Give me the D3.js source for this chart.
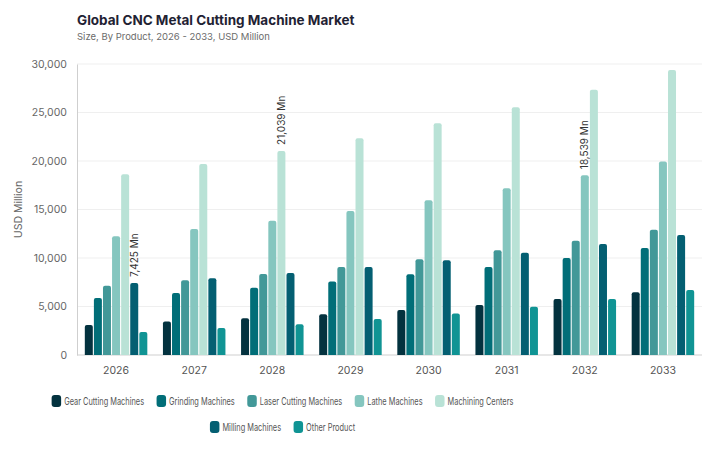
<!DOCTYPE html>
<html>
<head>
<meta charset="utf-8">
<script src="https://cdn.jsdelivr.net/npm/d3@7"></script>
<style>
  html, body { margin: 0; padding: 0; background: #fff; }
  svg { display: block; font-family: Inter, "Open Sans", sans-serif; }
</style>
</head>
<body>
<svg id="chart" width="719" height="449"></svg>
<script>
  var years = ["2026", "2027", "2028", "2029", "2030", "2031", "2032", "2033"];
  var products = ["Gear Cutting Machines", "Grinding Machines", "Laser Cutting Machines", "Lathe Machines", "Machining Centers", "Milling Machines", "Other Product"];
  var colors = ["#03323f", "#016e78", "#429898", "#85c6bf", "#b9e2d6", "#045f72", "#109494"];

  var gearCutting = [3100, 3450, 3780, 4190, 4640, 5150, 5770, 6460];
  var grinding = [5880, 6390, 6940, 7590, 8320, 9070, 10000, 11030];
  var laserCutting = [7140, 7700, 8350, 9070, 9860, 10790, 11790, 12920];
  var lathe = [12240, 12990, 13850, 14850, 15950, 17180, 18539, 19960];
  var machiningCenters = [18630, 19700, 21039, 22340, 23880, 25530, 27350, 29380];
  var milling = [7425, 7900, 8450, 9070, 9760, 10550, 11440, 12370];
  var other = [2370, 2780, 3160, 3710, 4290, 4980, 5770, 6700];
  var series = [gearCutting, grinding, laserCutting, lathe, machiningCenters, milling, other];

  // value labels: [year, product index]
  var labelled = [["2026", 5], ["2028", 4], ["2032", 3]];
  var yTicks = [0, 5000, 10000, 15000, 20000, 25000, 30000];

  var svg = d3.select("#chart");
  var plotLeft = 77, plotRight = 702, plotTop = 64, plotBottom = 355;

  svg.append("text").attr("x", 77).attr("y", 25)
    .attr("font-size", 13.5).attr("font-weight", 700).attr("fill", "#1f2233")
    .text("Global CNC Metal Cutting Machine Market");
  svg.append("text").attr("x", 77).attr("y", 40)
    .attr("font-size", 9.5).attr("fill", "#6b6b6b")
    .text("Size, By Product, 2026 - 2033, USD Million");

  var x0 = d3.scaleBand().domain(years).range([plotLeft, plotRight]).paddingInner(0.2).paddingOuter(0.1);
  var x1 = d3.scaleBand().domain(d3.range(products.length)).range([0, x0.bandwidth()]).paddingInner(0.12);
  var y = d3.scaleLinear().domain([0, 30000]).range([plotBottom, plotTop]);

  // grid
  svg.append("g").selectAll("line").data(yTicks.slice(1)).join("line")
    .attr("x1", plotLeft).attr("x2", plotRight)
    .attr("y1", function (d) { return y(d); }).attr("y2", function (d) { return y(d); })
    .attr("stroke", "#efefef");

  var yAxis = svg.append("g").attr("transform", "translate(" + plotLeft + ",0)")
    .call(d3.axisLeft(y).tickValues(yTicks).tickSize(0).tickPadding(10).tickFormat(d3.format(",")));
  yAxis.select(".domain").attr("stroke", "#cfcfcf");
  yAxis.selectAll("text").attr("font-size", 10.5).attr("fill", "#666").attr("font-family", "Inter, sans-serif");

  var xAxis = svg.append("g").attr("transform", "translate(0," + plotBottom + ")")
    .call(d3.axisBottom(x0).tickSize(0).tickPadding(12));
  xAxis.select(".domain").attr("stroke", "#cfcfcf").attr("d", "M" + plotLeft + ",0H" + plotRight);
  xAxis.selectAll("text").attr("font-size", 10.5).attr("fill", "#555").attr("font-family", "Inter, sans-serif");

  svg.append("text").attr("transform", "translate(22," + y(15000) + ") rotate(-90)")
    .attr("text-anchor", "middle").attr("font-size", 10.5).attr("fill", "#666")
    .text("USD Million");

  function topRounded(x, yTop, w, h, r) {
    r = Math.min(r, h, w / 2);
    return "M" + x + "," + (yTop + h) + "V" + (yTop + r) +
      "Q" + x + "," + yTop + " " + (x + r) + "," + yTop +
      "H" + (x + w - r) + "Q" + (x + w) + "," + yTop + " " + (x + w) + "," + (yTop + r) +
      "V" + (yTop + h) + "Z";
  }

  var groups = svg.append("g").selectAll("g").data(years).join("g")
    .attr("transform", function (d) { return "translate(" + x0(d) + ",0)"; });

  groups.selectAll("path").data(function (yr, i) {
    return series.map(function (s, k) { return { k: k, value: s[i] }; });
  }).join("path")
    .attr("fill", function (d) { return colors[d.k]; })
    .attr("d", function (d) {
      return topRounded(x1(d.k), y(d.value), x1.bandwidth(), plotBottom - y(d.value), 2);
    });

  labelled.forEach(function (l) {
    var i = years.indexOf(l[0]);
    var v = series[l[1]][i];
    var cx = x0(l[0]) + x1(l[1]) + x1.bandwidth() / 2;
    svg.append("text")
      .attr("transform", "translate(" + (cx + 3.5) + "," + (y(v) - 6) + ") rotate(-90)")
      .attr("font-size", 10).attr("fill", "#333")
      .text(d3.format(",")(v) + " Mn");
  });

  // legend, rows centered; the reference uses a narrow face, so squeeze the text horizontally
  var probe = svg.append("text").attr("font-size", 10.5).text(products[0]);
  var squeeze = 80 / probe.node().getComputedTextLength();
  probe.remove();

  var rows = [[0, 1, 2, 3, 4], [5, 6]];
  var legendCenter = 282.5;
  rows.forEach(function (row, r) {
    var g = svg.append("g");
    var cy = 401 + r * 26;
    var xpos = 0;
    row.forEach(function (k) {
      var item = g.append("g").attr("transform", "translate(" + xpos + ",0)");
      item.append("rect").attr("x", 0).attr("y", cy - 6).attr("width", 9.5).attr("height", 12)
        .attr("rx", 3).attr("fill", colors[k]);
      var t = item.append("text")
        .attr("transform", "translate(12.5," + (cy + 3.8) + ") scale(" + squeeze + ",1)")
        .attr("font-size", 10.5).attr("fill", "#555").text(products[k]);
      xpos += 12.5 + t.node().getComputedTextLength() * squeeze + 12.5;
    });
    var total = xpos - 12.5;
    g.attr("transform", "translate(" + (legendCenter - total / 2) + ",0)");
  });
</script>
</body>
</html>
